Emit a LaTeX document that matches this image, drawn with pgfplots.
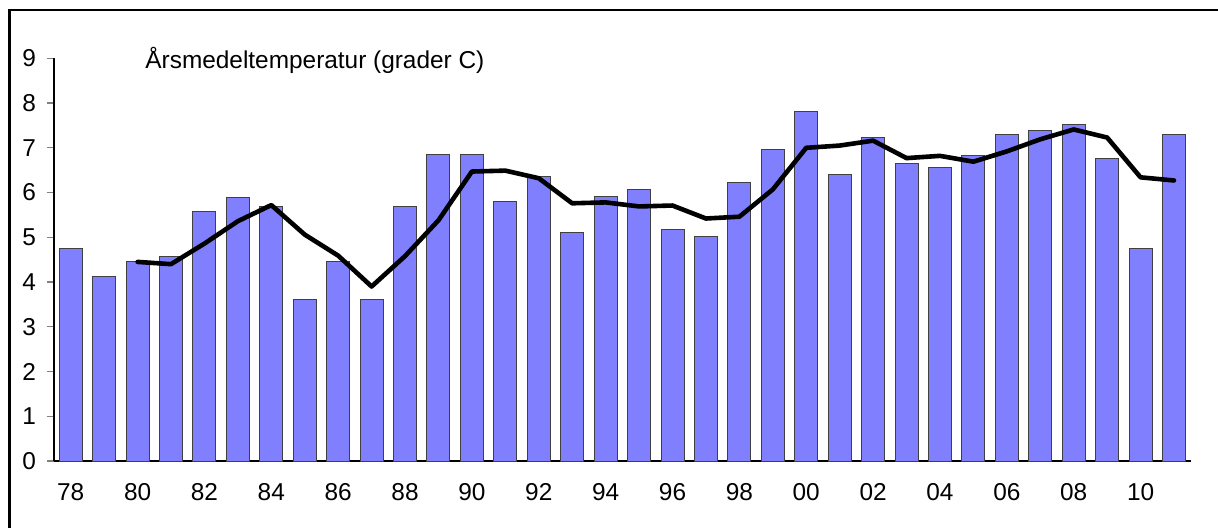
\documentclass[border=0pt]{standalone}
\usepackage{fontspec}
\setmainfont{Liberation Sans}
\usepackage{pgfplots}
\pgfplotsset{compat=1.18}
\definecolor{barblue}{HTML}{8080FF}
\begin{document}
\begin{tikzpicture}[x=1pt,y=1pt]
\useasboundingbox (0,0) rectangle (609,263.5);
\draw[line width=1.1pt] (4.7,-5) -- (4.7,258.5) -- (615,258.5);
\begin{axis}[
  at={(27pt,33pt)}, anchor=south west,
  scale only axis, width=568.35pt, height=201.35pt,
  xmin=-0.5, xmax=33.5, ymin=0, ymax=9,
  axis x line=bottom, axis y line=left,
  axis line style={-, line width=0.6pt},
  xtick={0,2,...,32},
  xticklabels={78,80,82,84,86,88,90,92,94,96,98,00,02,04,06,08,10},
  xtick style={draw=none},
  ytick={0,1,...,9},
  tick align=outside, major tick length=3.5pt,
  ytick style={line width=0.6pt},
  /pgf/number format/assume math mode=true,
  tick label style={font=\fontsize{12.2}{14}\selectfont},
  xticklabel style={yshift=-4pt},
  yticklabel style={xshift=-2pt},
  clip=false,
]
\addplot[ybar, bar width=11.5pt, fill=barblue, draw=black!75, line width=0.5pt] coordinates {
(0,4.75)(1,4.13)(2,4.45)(3,4.57)(4,5.57)(5,5.90)(6,5.68)(7,3.61)(8,4.45)(9,3.60)
(10,5.69)(11,6.85)(12,6.84)(13,5.79)(14,6.36)(15,5.11)(16,5.91)(17,6.07)(18,5.17)(19,5.01)
(20,6.23)(21,6.97)(22,7.82)(23,6.41)(24,7.23)(25,6.65)(26,6.56)(27,6.83)(28,7.29)(29,7.39)
(30,7.52)(31,6.76)(32,4.75)(33,7.29)
};
\addplot[black, line width=2.3pt, line join=round, line cap=round] coordinates {
(2,4.45)(3,4.40)(4,4.86)(5,5.36)(6,5.72)(7,5.06)(8,4.59)(9,3.90)(10,4.58)(11,5.38)
(12,6.47)(13,6.49)(14,6.32)(15,5.76)(16,5.78)(17,5.69)(18,5.71)(19,5.42)(20,5.46)(21,6.07)
(22,7.00)(23,7.05)(24,7.16)(25,6.77)(26,6.82)(27,6.69)(28,6.92)(29,7.19)(30,7.41)(31,7.23)
(32,6.34)(33,6.27)
};
\end{axis}
\node[anchor=west, inner sep=0pt, font=\fontsize{12.2}{14}\selectfont] at (72.5,233.5) {Årsmedeltemperatur (grader C)};
\end{tikzpicture}
\end{document}
